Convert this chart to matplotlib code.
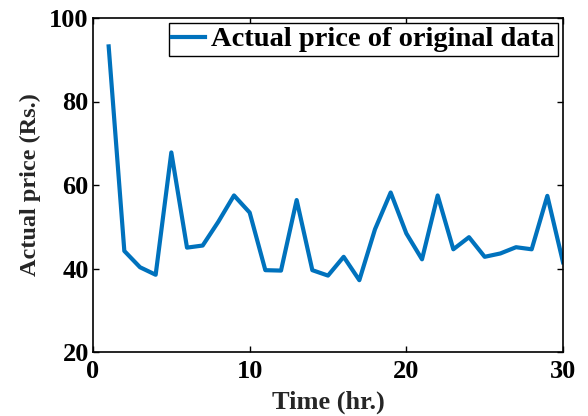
import matplotlib
matplotlib.use("Agg")
import matplotlib.pyplot as plt

hours = list(range(1, 31))
price = [93.2, 44.2, 40.3, 38.5, 67.8, 45.0, 45.5, 51.2, 57.5, 53.4,
         39.6, 39.5, 56.4, 39.6, 38.3, 42.8, 37.2, 49.4, 58.2, 48.4,
         42.2, 57.5, 44.6, 47.5, 42.8, 43.6, 45.1, 44.6, 57.4, 41.5]
xticks = [0, 10, 20, 30]
yticks = [20, 40, 60, 80, 100]

plt.rcParams['font.family'] = ['Liberation Serif', 'DejaVu Serif']
fig = plt.figure(figsize=(5.88, 4.16), dpi=100)
ax = fig.add_axes([93/588, 1-352/416, (563-93)/588, (352-18)/416])
ax.plot(hours, price, color='#0072BD', lw=3, label='Actual price of original data')
ax.set_xlim(0, 30)
ax.set_ylim(20, 100)
ax.set_xticks(xticks)
ax.set_yticks(yticks)
ax.tick_params(direction='in', top=True, right=True, length=4, width=1,
               labelsize=19)
ax.tick_params(axis='y', pad=3)
ax.tick_params(axis='x', pad=6)
for lab in ax.get_xticklabels() + ax.get_yticklabels():
    lab.set_fontweight('bold')
for s in ax.spines.values():
    s.set_linewidth(1.2)
ax.set_xlabel('Time (hr.)', fontsize=19, fontweight='bold', color='#262626', labelpad=5)
ax.set_ylabel('Actual price (Rs.)', fontsize=17.5, fontweight='bold', color='#262626', labelpad=6)
leg = ax.legend(loc='upper right', prop={'size': 20.5, 'weight': 'bold'}, fancybox=False,
                edgecolor='black', framealpha=1, borderpad=0.12, handlelength=1.15,
                handletextpad=0.22, borderaxespad=0.18)
leg.get_frame().set_linewidth(1.0)
fig.savefig('out.png', dpi=100)
